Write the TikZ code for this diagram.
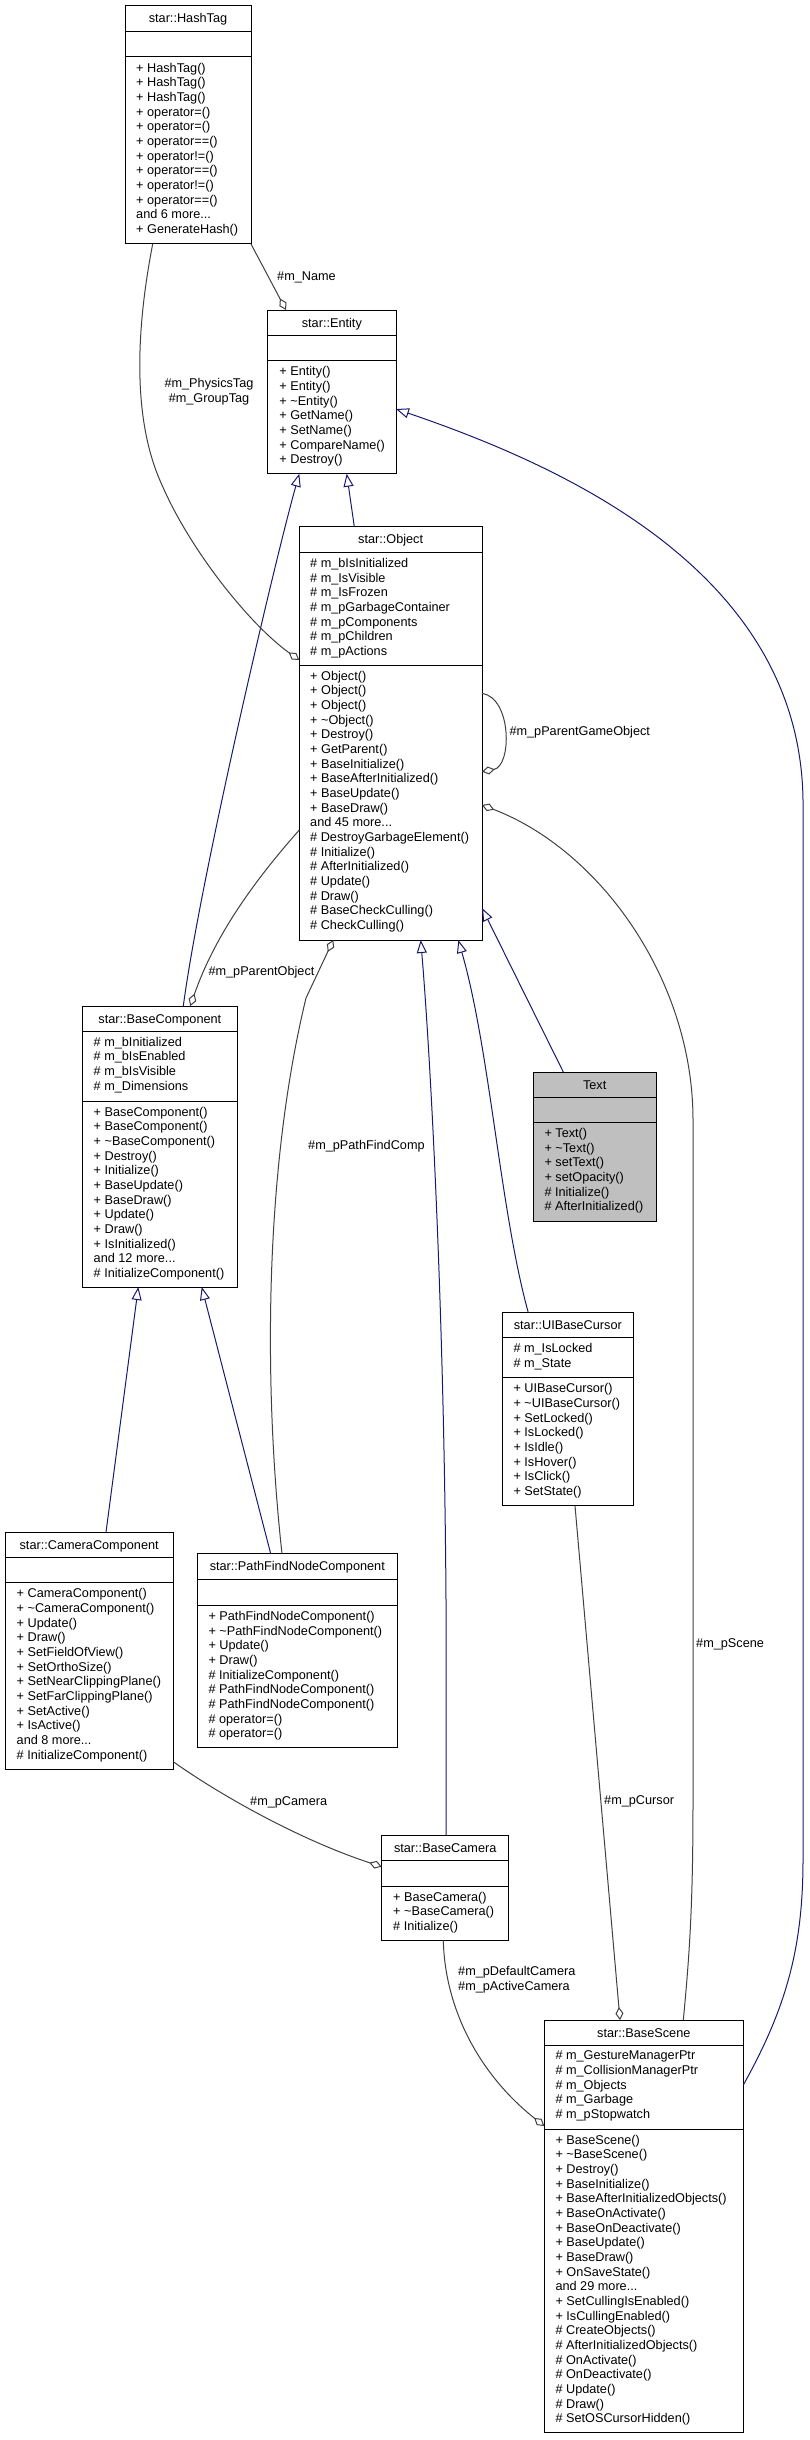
\documentclass[tikz,border=0pt]{standalone}
\usepackage{fontspec}
\setmainfont{Liberation Sans}
\usepackage{tikz}
\usetikzlibrary{arrows.meta,calc}
\definecolor{edgeblue}{RGB}{25,25,112}
\definecolor{edgegray}{RGB}{64,64,64}
\definecolor{focusgray}{RGB}{191,191,191}

\tikzset{
  classbox/.style={draw=black, line width=1pt, fill=white, inner sep=0pt, outer sep=0pt, anchor=north west},
  sepline/.style={line width=1pt},
  classname/.style={anchor=base, inner sep=0pt},
  members/.style={anchor=north west, align=left, inner sep=0pt, execute at begin node=\strut},
  inherit/.style={edgeblue, line width=1pt, -{Triangle[open, length=13pt, width=10pt]}},
  aggregate/.style={edgegray, line width=1pt, -{Diamond[open, length=13pt, width=8pt]}},
  rolename/.style={inner sep=0pt, anchor=west, align=left}
}

\begin{document}
\begin{tikzpicture}[x=1pt, y=-1pt, font=\fontsize{12.7}{14.67}\selectfont]
\useasboundingbox (0,0) rectangle (809,2440);

% star::HashTag
\node[classbox, minimum width=126, minimum height=238] (hash) at (125,6) {};
\node[classname] (hashname) at ($(hash.north)+(0,17)$) {star::HashTag};
\draw[sepline] (125,32) -- (251,32);
\draw[sepline] (125,57) -- (251,57);
\node[members] (hashops) at (136,62.8) {+ HashTag()\\+ HashTag()\\+ HashTag()\\+ operator=()\\+ operator=()\\+ operator==()\\+ operator!=()\\+ operator==()\\+ operator!=()\\+ operator==()\\and 6 more...\\+ GenerateHash()};

% star::Entity
\node[classbox, minimum width=128.3, minimum height=163.7] (entity) at (267.7,310) {};
\node[classname] (entityname) at ($(entity.north)+(0,17)$) {star::Entity};
\draw[sepline] (267.7,335) -- (396,335);
\draw[sepline] (267.7,360.7) -- (396,360.7);
\node[members] (entityops) at (279.2,366.5) {+ Entity()\\+ Entity()\\+ \textasciitilde{}Entity()\\+ GetName()\\+ SetName()\\+ CompareName()\\+ Destroy()};

% star::Object
\node[classbox, minimum width=182.7, minimum height=413.3] (object) at (299.3,526.7) {};
\node[classname] (objectname) at ($(object.north)+(0,17)$) {star::Object};
\draw[sepline] (299.3,552.3) -- (482,552.3);
\draw[sepline] (299.3,665) -- (482,665);
\node[members] (objectattrs) at (310,558.1) {\# m\_bIsInitialized\\\# m\_IsVisible\\\# m\_IsFrozen\\\# m\_pGarbageContainer\\\# m\_pComponents\\\# m\_pChildren\\\# m\_pActions};
\node[members] (objectops) at (310,670.8) {+ Object()\\+ Object()\\+ Object()\\+ \textasciitilde{}Object()\\+ Destroy()\\+ GetParent()\\+ BaseInitialize()\\+ BaseAfterInitialized()\\+ BaseUpdate()\\+ BaseDraw()\\and 45 more...\\\# DestroyGarbageElement()\\\# Initialize()\\\# AfterInitialized()\\\# Update()\\\# Draw()\\\# BaseCheckCulling()\\\# CheckCulling()};

% Text
\node[classbox, fill=focusgray, minimum width=122.7, minimum height=149.3] (text) at (533.3,1072) {};
\node[classname] (textname) at ($(text.north)+(0,17)$) {Text};
\draw[sepline] (533.3,1097) -- (656,1097);
\draw[sepline] (533.3,1122.3) -- (656,1122.3);
\node[members] (textops) at (544.3,1128.1) {+ Text()\\+ \textasciitilde{}Text()\\+ setText()\\+ setOpacity()\\\# Initialize()\\\# AfterInitialized()};

% star::UIBaseCursor
\node[classbox, minimum width=131.7, minimum height=193] (cursor) at (502,1312.7) {};
\node[classname] (cursorname) at ($(cursor.north)+(0,17)$) {star::UIBaseCursor};
\draw[sepline] (502,1337.3) -- (633.7,1337.3);
\draw[sepline] (502,1377.7) -- (633.7,1377.7);
\node[members] (cursorattrs) at (513.3,1343.1) {\# m\_IsLocked\\\# m\_State};
\node[members] (cursorops) at (513.3,1383.5) {+ UIBaseCursor()\\+ \textasciitilde{}UIBaseCursor()\\+ SetLocked()\\+ IsLocked()\\+ IsIdle()\\+ IsHover()\\+ IsClick()\\+ SetState()};

% star::BaseComponent
\node[classbox, minimum width=154.3, minimum height=281] (basecomp) at (82.7,1006) {};
\node[classname] (basecompname) at ($(basecomp.north)+(0,17)$) {star::BaseComponent};
\draw[sepline] (82.7,1031) -- (237,1031);
\draw[sepline] (82.7,1101) -- (237,1101);
\node[members] (basecompattrs) at (93.5,1036.8) {\# m\_bInitialized\\\# m\_bIsEnabled\\\# m\_bIsVisible\\\# m\_Dimensions};
\node[members] (basecompops) at (93.5,1106.8) {+ BaseComponent()\\+ BaseComponent()\\+ \textasciitilde{}BaseComponent()\\+ Destroy()\\+ Initialize()\\+ BaseUpdate()\\+ BaseDraw()\\+ Update()\\+ Draw()\\+ IsInitialized()\\and 12 more...\\\# InitializeComponent()};

% star::CameraComponent
\node[classbox, minimum width=168.3, minimum height=236.7] (camcomp) at (5,1532.3) {};
\node[classname] (camcompname) at ($(camcomp.north)+(0,17)$) {star::CameraComponent};
\draw[sepline] (5,1557.3) -- (173.3,1557.3);
\draw[sepline] (5,1582.7) -- (173.3,1582.7);
\node[members] (camcompops) at (16.5,1588.5) {+ CameraComponent()\\+ \textasciitilde{}CameraComponent()\\+ Update()\\+ Draw()\\+ SetFieldOfView()\\+ SetOrthoSize()\\+ SetNearClippingPlane()\\+ SetFarClippingPlane()\\+ SetActive()\\+ IsActive()\\and 8 more...\\\# InitializeComponent()};

% star::PathFindNodeComponent
\node[classbox, minimum width=200, minimum height=193.3] (pathfind) at (197.3,1553.7) {};
\node[classname] (pathfindname) at ($(pathfind.north)+(0,17)$) {star::PathFindNodeComponent};
\draw[sepline] (197.3,1579.3) -- (397.3,1579.3);
\draw[sepline] (197.3,1605.3) -- (397.3,1605.3);
\node[members] (pathfindops) at (208.3,1611.1) {+ PathFindNodeComponent()\\+ \textasciitilde{}PathFindNodeComponent()\\+ Update()\\+ Draw()\\\# InitializeComponent()\\\# PathFindNodeComponent()\\\# PathFindNodeComponent()\\\# operator=()\\\# operator=()};

% star::BaseCamera
\node[classbox, minimum width=127, minimum height=105.3] (basecam) at (381.7,1835) {};
\node[classname] (basecamname) at ($(basecam.north)+(0,17)$) {star::BaseCamera};
\draw[sepline] (381.7,1860.7) -- (508.7,1860.7);
\draw[sepline] (381.7,1886) -- (508.7,1886);
\node[members] (basecamops) at (393,1891.8) {+ BaseCamera()\\+ \textasciitilde{}BaseCamera()\\\# Initialize()};

% star::BaseScene
\node[classbox, minimum width=199, minimum height=412.7] (scene) at (544.3,2020) {};
\node[classname] (scenename) at ($(scene.north)+(0,17)$) {star::BaseScene};
\draw[sepline] (544.3,2045) -- (743.3,2045);
\draw[sepline] (544.3,2129) -- (743.3,2129);
\node[members] (sceneattrs) at (555.3,2050.8) {\# m\_GestureManagerPtr\\\# m\_CollisionManagerPtr\\\# m\_Objects\\\# m\_Garbage\\\# m\_pStopwatch};
\node[members] (sceneops) at (555.3,2134.8) {+ BaseScene()\\+ \textasciitilde{}BaseScene()\\+ Destroy()\\+ BaseInitialize()\\+ BaseAfterInitializedObjects()\\+ BaseOnActivate()\\+ BaseOnDeactivate()\\+ BaseUpdate()\\+ BaseDraw()\\+ OnSaveState()\\and 29 more...\\+ SetCullingIsEnabled()\\+ IsCullingEnabled()\\\# CreateObjects()\\\# AfterInitializedObjects()\\\# OnActivate()\\\# OnDeactivate()\\\# Update()\\\# Draw()\\\# SetOSCursorHidden()};

% inheritance
\draw[inherit] ($(object.north west)+(55,0)$) -- ($(entity.south west)+(79,0)$);
\draw[inherit] ($(basecomp.north west)+(100.6,0)$) .. controls (200,880) and (275,560) .. ($(entity.south west)+(31.6,0)$);
\draw[inherit] ($(scene.north east)+(0,65)$) .. controls (785,2010) and (803,1950) .. (803,1860) -- (803,800) .. controls (800,570) and (560,465) .. ($(entity.north east)+(0,99)$);
\draw[inherit] ($(text.north west)+(30,0)$) -- ($(object.south east)+(0,-32)$);
\draw[inherit] ($(cursor.north west)+(26.3,0)$) .. controls (500,1210) and (490,1050) .. ($(object.south east)+(-23.7,0)$);
\draw[inherit] ($(basecam.north west)+(64.3,0)$) -- (446,1600) .. controls (444,1300) and (430,1050) .. ($(object.south west)+(121.4,0)$);
\draw[inherit] ($(camcomp.north west)+(101,0)$) -- ($(basecomp.south west)+(55.6,0)$);
\draw[inherit] ($(pathfind.north west)+(73.4,0)$) -- ($(basecomp.south west)+(119,0)$);

% members
\draw[aggregate] (hash.south east) -- ($(entity.north west)+(18.3,0)$);
\node[rolename] (lblname) at (277,277) {\#m\_Name};
\draw[aggregate] ($(hash.south west)+(27.7,0)$) .. controls (136,330) and (132,420) .. (162,485) .. controls (190,550) and (250,625) .. ($(object.north west)+(0,133.3)$);
\node[inner sep=0pt, align=center] (lbltags) at (209,391.5) {\#m\_PhysicsTag\\\#m\_GroupTag};
\draw[aggregate] ($(object.north east)+(0,166.6)$) .. controls (512,698) and (512,766) .. ($(object.north east)+(0,245)$);
\node[rolename] (lblparentgo) at (509.3,732.3) {\#m\_pParentGameObject};
\draw[aggregate] ($(object.north west)+(0,303.3)$) .. controls (255,880) and (215,935) .. ($(basecomp.north west)+(107.6,0)$);
\node[rolename] (lblparentobj) at (208.3,972.3) {\#m\_pParentObject};
\draw[aggregate] ($(pathfind.north west)+(84.7,0)$) .. controls (265,1400) and (262,1180) .. (306,998) -- ($(object.south west)+(34,0)$);
\node[rolename] (lblpathfind) at (308,1146) {\#m\_pPathFindComp};
\draw[aggregate] ($(scene.north west)+(139,0)$) .. controls (690,1950) and (693,1900) .. (693,1800) -- (693,1120) .. controls (693,980) and (600,850) .. ($(object.north east)+(0,278.3)$);
\node[rolename] (lblscene) at (696,1644) {\#m\_pScene};
\draw[aggregate] ($(cursor.south west)+(73,0)$) -- ($(scene.north west)+(75.7,0)$);
\node[rolename] (lblcursor) at (604,1801.7) {\#m\_pCursor};
\draw[aggregate] ($(camcomp.south east)+(0,-7.3)$) .. controls (220,1795) and (300,1840) .. ($(basecam.north west)+(0,31.7)$);
\node[rolename] (lblcamera) at (250,1802) {\#m\_pCamera};
\draw[aggregate] ($(basecam.south west)+(61.6,0)$) .. controls (445,2010) and (480,2075) .. ($(scene.north west)+(0,106)$);
\node[rolename] (lblcameras) at (458,1979.5) {\#m\_pDefaultCamera\\\#m\_pActiveCamera};
\end{tikzpicture}
\end{document}
